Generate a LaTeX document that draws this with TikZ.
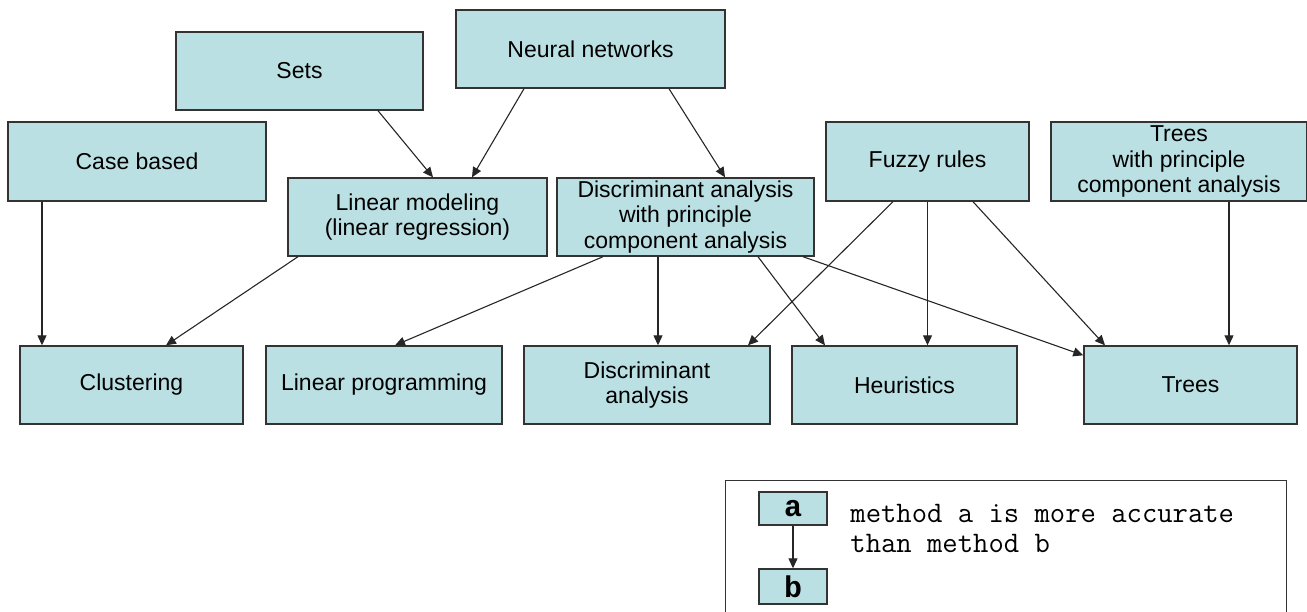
\documentclass[tikz,border=0pt]{standalone}
\usepackage{fontspec}
\setmainfont{Liberation Sans}
\newfontfamily\legendbold{Liberation Mono}
\usetikzlibrary{arrows.meta}
\definecolor{boxfill}{RGB}{187,224,227}
\definecolor{boxline}{RGB}{51,51,51}
\begin{document}
\begin{tikzpicture}[x=0.5pt,y=-0.5pt,
  method/.style 2 args={draw=boxline, line width=0.7pt, fill=boxfill, inner sep=0pt,
    minimum width=#1*0.5pt, minimum height=#2*0.5pt, align=center,
    font=\fontsize{11.5}{12.8}\selectfont},
  better/.style={-{Triangle[length=5pt,width=4.5pt]}, line width=0.55pt, draw=black!85},
  legtext/.style={anchor=base west, inner sep=0pt, font=\ttfamily\fontsize{14.9}{15}\selectfont},
]
\useasboundingbox (0,0) rectangle (1307,611);
\clip (0,0) rectangle (1307,611);

% upper methods
\node[method={247}{78}] (sets)     at (299.5,71)  {Sets};
\node[method={258}{79}] (case)     at (137,161.5) {Case based};
\node[method={269}{78}] (neural)   at (590.5,49)  {Neural networks};
\node[method={259}{78}] (linmod)   at (417.5,217) {Linear modeling\\(linear regression)};
\node[method={257}{78}] (dapca)    at (685.5,217) {Discriminant analysis\\with principle\\component analysis};
\node[method={203}{79}] (fuzzy)    at (927.5,161.5) {Fuzzy rules};
\node[method={256}{79}] (treespca) at (1179,161.5) {Trees\\with principle\\component analysis};

% lower methods
\node[method={223}{78}] (clust)   at (131.5,385) {Clustering};
\node[method={236}{78}] (linprog) at (384,385)   {Linear programming};
\node[method={246}{78}] (disc)    at (647,385)   {Discriminant\\analysis};
\node[method={225}{78}] (heur)    at (904.5,385) {Heuristics};
\node[method={213}{78}] (trees)   at (1190.5,385) {Trees};

% accuracy relations
\draw[better] ([shift={(-95,0)}]case.south)    -- ([shift={(-89.5,0)}]clust.north);
\draw[better] ([shift={(78.5,0)}]sets.south)    -- ([shift={(15.5,0)}]linmod.north);
\draw[better] ([shift={(-66.5,0)}]neural.south) -- ([shift={(54.5,0)}]linmod.north);
\draw[better] ([shift={(78.5,0)}]neural.south)  -- ([shift={(39.5,0)}]dapca.north);
\draw[better] ([shift={(-119.5,0)}]linmod.south) -- ([shift={(34.5,0)}]clust.north);
\draw[better] ([shift={(-82.5,0)}]dapca.south)  -- ([shift={(11,0)}]linprog.north);
\draw[better] ([shift={(-27.5,0)}]dapca.south)  -- ([shift={(11,0)}]disc.north);
\draw[better] ([shift={(72.5,0)}]dapca.south)   -- ([shift={(-79.5,0)}]heur.north);
\draw[better] ([shift={(117.5,0)}]dapca.south)  -- ([shift={(0,10)}]trees.north west);
\draw[better] ([shift={(-34.5,0)}]fuzzy.south)  -- ([shift={(101,0)}]disc.north);
\draw[better] ([shift={(0,0)}]fuzzy.south)      -- ([shift={(23,0)}]heur.north);
\draw[better] ([shift={(45.5,0)}]fuzzy.south)   -- ([shift={(-85.5,0)}]trees.north);
\draw[better] ([shift={(50,0)}]treespca.south)  -- ([shift={(38.5,0)}]trees.north);

% legend
\node[draw=boxline, line width=0.7pt, fill=white, inner sep=0pt, minimum width=561*0.5pt,
      minimum height=150*0.5pt, anchor=north west] (legend) at (725,480) {};
\node[method={68}{33}, font=\legendbold\bfseries\fontsize{15}{15}\selectfont] (la) at (793,508.5) {a};
\node[method={68}{35}, font=\legendbold\bfseries\fontsize{15}{15}\selectfont] (lb) at (793,586.5) {b};
\draw[better] (la.south) -- (lb.north);
\node[legtext] (leg1) at (850,522) {method a is more accurate};
\node[legtext] (leg2) at (850,552) {than method b};
\end{tikzpicture}
\end{document}
